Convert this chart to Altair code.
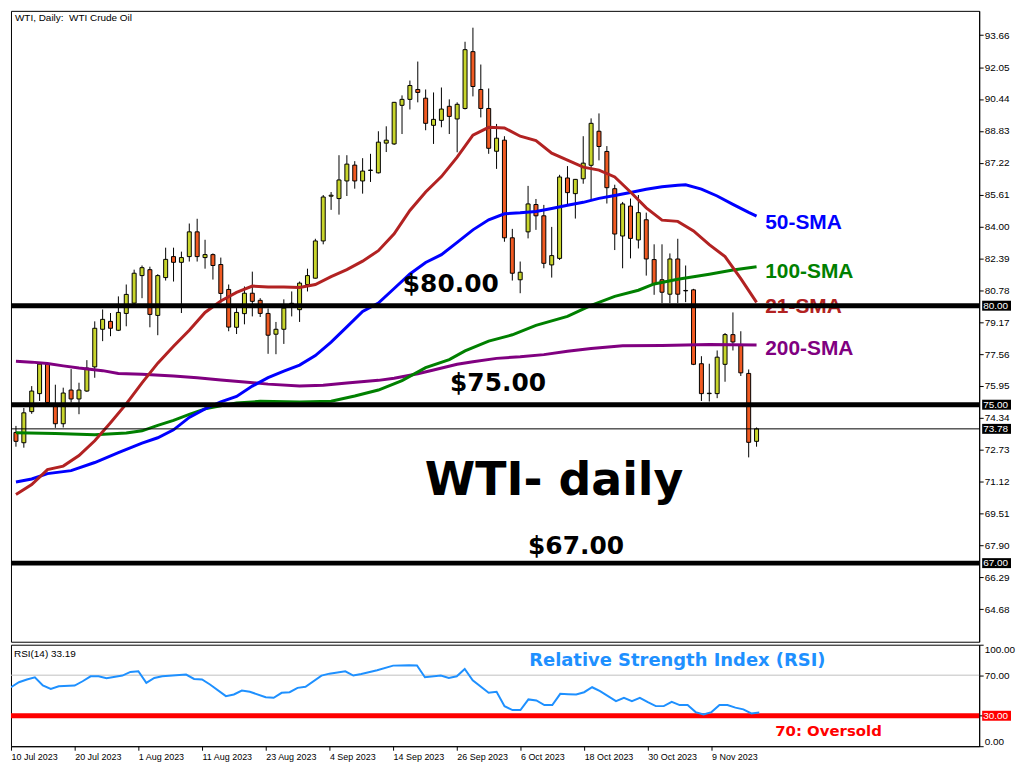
import altair as alt
import pandas as pd
import json

# ---------------- data ----------------
tick_idx = [0, 8, 16, 24, 32, 40, 48, 56, 64, 72, 80, 88]
tick_labels = ["10 Jul 2023", "20 Jul 2023", "1 Aug 2023", "11 Aug 2023",
               "23 Aug 2023", "4 Sep 2023", "14 Sep 2023", "26 Sep 2023",
               "6 Oct 2023", "18 Oct 2023", "30 Oct 2023", "9 Nov 2023"]

price_ticks = [64.68, 66.29, 67.90, 69.51, 71.12, 72.73, 74.34, 75.95, 77.56,
               79.17, 80.78, 82.39, 84.00, 85.61, 87.22, 88.83, 90.44, 92.05, 93.66]
rsi_ticks = [0, 30, 70, 100]

opens = [73.60, 73.08, 74.65, 75.56, 77.05, 75.04, 74.04, 75.74, 75.29, 75.69,
         76.91, 78.81, 79.21, 78.76, 79.61, 80.13, 81.52, 81.82, 79.51, 81.42,
         82.48, 82.19, 82.48, 83.73, 82.43, 82.58, 82.08, 80.82, 78.91, 79.60,
         80.63, 80.27, 79.61, 78.56, 78.81, 80.12, 79.80, 81.07, 81.39, 83.27,
         85.53, 85.41, 86.30, 87.10, 86.30, 86.83, 86.71, 88.21, 88.17, 90.12,
         90.42, 90.92, 90.48, 89.11, 89.36, 90.07, 89.43, 89.96, 92.83, 90.92,
         89.96, 87.80, 88.36, 83.43, 81.31, 83.73, 85.11, 84.54, 82.06, 82.39,
         86.45, 85.66, 86.41, 87.09, 88.81, 87.79, 85.91, 83.52, 85.03, 83.32,
         84.34, 82.33, 81.31, 80.58, 82.36, 80.77, 80.80, 77.07, 75.56, 75.56,
         77.04, 78.54, 78.01, 76.58, 73.15]
highs = [73.93, 74.84, 75.94, 77.12, 77.12, 76.01, 75.86, 76.80, 76.11, 77.25,
         79.21, 79.81, 79.63, 80.47, 81.07, 81.82, 82.03, 81.97, 81.59, 82.93,
         82.93, 82.73, 84.15, 84.39, 83.33, 82.64, 82.43, 81.07, 79.88, 80.97,
         81.72, 80.38, 79.86, 79.18, 80.32, 80.72, 81.22, 81.87, 83.38, 85.59,
         85.74, 87.60, 87.60, 87.30, 87.45, 87.67, 88.81, 89.06, 90.29, 90.62,
         91.37, 92.33, 90.92, 90.77, 91.02, 90.42, 90.27, 93.33, 94.04, 92.18,
         90.97, 89.18, 88.56, 83.88, 82.23, 86.05, 85.39, 85.09, 83.98, 86.61,
         87.05, 86.40, 88.56, 89.46, 89.71, 88.06, 86.11, 85.24, 85.41, 85.59,
         84.70, 83.10, 83.10, 82.64, 83.38, 82.03, 80.85, 77.45, 77.07, 77.74,
         78.62, 79.66, 78.71, 76.78, 73.85]
lows = [72.88, 72.83, 74.54, 75.19, 75.04, 73.83, 73.85, 75.11, 74.52, 75.65,
        76.36, 78.21, 78.46, 78.72, 78.96, 79.96, 80.38, 78.91, 78.51, 81.27,
        81.22, 79.63, 82.23, 82.23, 81.87, 81.32, 80.13, 78.71, 78.57, 79.06,
        79.46, 79.43, 77.57, 77.55, 78.07, 79.46, 79.18, 80.72, 81.37, 83.10,
        84.84, 84.60, 85.54, 85.91, 85.66, 86.25, 86.68, 87.76, 88.12, 88.67,
        89.91, 90.27, 88.86, 88.17, 89.01, 88.67, 87.75, 89.91, 90.57, 89.51,
        87.67, 86.91, 83.23, 81.27, 80.63, 83.40, 83.83, 81.89, 81.42, 82.31,
        85.09, 84.40, 86.16, 85.34, 87.34, 85.16, 82.81, 81.89, 82.39, 82.89,
        81.52, 80.55, 80.13, 80.13, 80.13, 80.18, 77.00, 75.19, 75.16, 75.33,
        76.16, 77.74, 76.45, 72.34, 72.88]
closes = [73.15, 74.59, 75.69, 77.05, 75.11, 74.04, 75.59, 75.29, 75.74, 76.85,
          78.86, 79.31, 78.86, 79.66, 80.57, 81.64, 81.92, 79.56, 81.52, 82.34,
          82.19, 82.43, 83.73, 82.48, 82.58, 82.03, 80.62, 78.92, 79.66, 80.63,
          80.22, 79.61, 78.51, 78.81, 79.88, 80.10, 81.14, 81.52, 83.27, 85.49,
          85.58, 86.35, 87.15, 86.30, 86.80, 86.85, 88.26, 88.36, 90.27, 90.42,
          91.12, 90.77, 89.21, 89.41, 89.93, 89.56, 90.17, 92.93, 91.07, 89.96,
          87.95, 88.46, 83.43, 81.64, 81.69, 85.14, 84.54, 82.14, 82.53, 86.50,
          85.71, 86.38, 87.20, 89.21, 88.04, 85.96, 83.62, 85.14, 83.40, 84.70,
          82.36, 81.09, 80.68, 82.36, 80.58, 80.75, 77.04, 75.56, 75.58, 77.40,
          78.54, 78.17, 76.61, 73.10, 73.78]

sma21_i = [0, 2, 4, 6, 8, 10, 12, 14, 16, 18, 20, 22, 24, 26, 28, 30, 32, 34, 36, 38,
           40, 42, 44, 46, 48, 50, 52, 54, 56, 58, 60, 62, 64, 66, 68, 70, 72, 74, 76, 78,
           80, 82, 84, 86, 88, 90, 92, 94]
sma21_v = [70.47, 70.97, 71.72, 71.90, 72.43, 73.18, 74.09, 75.04, 76.10, 77.10,
           77.95, 78.76, 79.66, 80.24, 80.67, 80.99, 80.94, 80.94, 80.92, 81.07,
           81.47, 81.82, 82.25, 82.78, 83.63, 84.81, 85.74, 86.52, 87.50, 88.61,
           89.01, 88.98, 88.56, 88.34, 87.70, 87.35, 87.00, 86.85, 86.50, 85.74,
           84.94, 84.32, 84.26, 83.78, 83.08, 82.48, 81.37, 80.17]

sma50_i = [0, 2, 4, 7, 10, 13, 16, 18, 20, 22, 24, 26, 28, 30, 32, 34, 36, 38, 40, 42,
           44, 46, 48, 50, 52, 54, 56, 58, 60, 62, 64, 66, 68, 70, 72, 74, 76, 78, 80, 82,
           84, 85, 87, 89, 91, 93, 94]
sma50_v = [71.10, 71.25, 71.52, 71.67, 72.08, 72.58, 73.06, 73.33, 73.73, 74.36,
           74.79, 75.14, 75.42, 75.94, 76.37, 76.70, 77.00, 77.48, 78.16, 78.93,
           79.71, 80.13, 80.87, 81.60, 82.18, 82.58, 83.20, 83.83, 84.34, 84.64,
           84.69, 84.76, 84.91, 85.07, 85.22, 85.42, 85.57, 85.72, 85.88, 86.01,
           86.08, 86.11, 85.89, 85.54, 85.12, 84.71, 84.52]

sma100_i = [0, 5, 10, 14, 16, 18, 20, 22, 24, 26, 28, 31, 36, 40, 43, 46, 49, 52, 55, 57,
            60, 63, 66, 70, 73, 76, 79, 81, 84, 88, 91, 94]
sma100_v = [73.58, 73.55, 73.48, 73.57, 73.68, 73.96, 74.21, 74.51, 74.79, 74.94,
            75.09, 75.17, 75.14, 75.18, 75.44, 75.74, 76.22, 76.87, 77.28, 77.72,
            78.21, 78.53, 79.01, 79.46, 80.02, 80.47, 80.78, 81.10, 81.34, 81.59,
            81.80, 81.97]

sma200_i = [0, 2, 4, 6, 8, 11, 13, 16, 20, 23, 26, 29, 32, 36, 39, 42, 46, 48, 51, 53,
            56, 58, 61, 64, 67, 70, 73, 77, 82, 88, 94]
sma200_v = [77.20, 77.15, 77.08, 76.96, 76.85, 76.72, 76.58, 76.54, 76.45, 76.36,
            76.25, 76.15, 76.04, 75.94, 75.98, 76.10, 76.23, 76.34, 76.56, 76.75,
            77.04, 77.17, 77.34, 77.42, 77.53, 77.70, 77.84, 77.98, 77.99, 78.04,
            78.01]

rsi_i = [0, 1, 2, 3, 4, 5, 6, 8, 9, 10, 11, 12, 14, 15, 16, 17, 18, 19, 22, 23,
         24, 25, 27, 28, 29, 30, 32, 33, 34, 35, 36, 37, 39, 40, 42, 43, 44, 46, 48, 50,
         51, 52, 54, 55, 56, 57, 58, 60, 61, 62, 63, 64, 65, 66, 67, 68, 69, 70, 71, 72,
         73, 74, 76, 77, 78, 79, 80, 81, 82, 83, 84, 85, 86, 87, 88, 89, 90, 91, 92, 93, 94]
rsi_v = [58.1, 63.0, 65.7, 67.9, 59.8, 56.5, 59.1, 59.8, 64.0, 68.9, 68.9, 66.9, 69.6,
         73.2, 73.8, 62.4, 67.3, 68.9, 70.6, 66.3, 65.7, 60.8, 49.3, 51.0, 54.9, 53.6,
         48.3, 47.7, 52.6, 53.2, 57.5, 58.5, 69.6, 71.5, 73.8, 69.6, 71.2, 74.8, 79.4,
         79.7, 79.5, 67.9, 69.6, 67.3, 68.9, 76.1, 65.0, 52.6, 53.6, 39.5, 35.6, 35.6,
         46.1, 45.1, 40.5, 40.5, 51.6, 51.3, 51.0, 53.2, 58.1, 54.2, 44.4, 47.7, 44.4,
         47.7, 43.4, 39.5, 39.5, 43.8, 40.5, 40.5, 33.6, 31.4, 33.6, 40.5, 40.5, 38.0,
         36.3, 32.3, 33.2]

key_levels = [80.00, 75.00, 67.00]
last_close = [73.78]
rsi_levels = [70]
rsi_oversold = [30]

# ---------------- styling ----------------
W, H1, H2 = 973, 634, 102
BULL, BEAR = "#C8D52C", "#F05A22"
AXF = "Liberation Sans"

xs = alt.Scale(domain=[0, 121.625], nice=False, zero=False)
ps = alt.Scale(domain=[63.03, 94.89], nice=False, zero=False)
rs = alt.Scale(domain=[0, 100], nice=False, zero=False)

price_axis = alt.Axis(orient="right", values=price_ticks, format=".2f", title=None,
                      grid=False, tickSize=4, labelPadding=1, labelFont=AXF,
                      labelFontSize=10, labelColor="black", tickColor="black",
                      domainColor="black", labelFlush=False, labelOverlap=False,
                      labelSeparation=0, labelBound=False)
rsi_axis = alt.Axis(orient="right", values=rsi_ticks, format=".2f", title=None,
                    grid=False, tickSize=4, labelPadding=1, labelFont=AXF,
                    labelFontSize=10, labelColor="black", tickColor="black",
                    domainColor="black", labelFlush=True, labelOverlap=False)
label_expr = json.dumps(tick_labels) + "[indexof(" + json.dumps(tick_idx) + ", datum.value)]"
date_axis = alt.Axis(values=tick_idx, labelExpr=label_expr, labelAlign="left",
                     labelBaseline="top", tickSize=4, labelPadding=2, labelFont=AXF,
                     labelFontSize=9, labelColor="black", tickColor="black",
                     domainColor="black", grid=False, title=None, labelFlush=False,
                     labelOverlap=False, labelBound=False)

one = pd.DataFrame({"k": [0]})


def note(txt, xi, yv, yscale, yaxis, xaxis, color, font, size):
    return alt.Chart(one).mark_text(
        text=txt, align="left", baseline="alphabetic", font=font, fontWeight="bold",
        fontSize=size, color=color
    ).encode(x=alt.X(datum=xi, type="quantitative", scale=xs, axis=xaxis),
             y=alt.Y(datum=yv, type="quantitative", scale=yscale, axis=yaxis))


def py(field):
    return alt.Y(field, type="quantitative", scale=ps, axis=price_axis)


def ry(field):
    return alt.Y(field, type="quantitative", scale=rs, axis=rsi_axis)


def px():
    return alt.X("i:Q", scale=xs, axis=None)


# ---------------- main price panel ----------------
cdf = pd.DataFrame({"i": list(range(len(opens))), "open": opens, "high": highs,
                    "low": lows, "close": closes})

wicks = alt.Chart(cdf).mark_rule(color="black", strokeWidth=1, clip=True).encode(
    x=px(), y=py("low"), y2="high:Q")

bodies = alt.Chart(cdf).transform_calculate(
    dir="datum.close >= datum.open ? 'up' : 'down'"
).mark_bar(size=4, stroke="black", strokeWidth=1, clip=True).encode(
    x=px(), y=py("open"), y2="close:Q",
    fill=alt.Fill("dir:N", scale=alt.Scale(domain=["up", "down"], range=[BULL, BEAR]),
                  legend=None))

sma_df = pd.concat([
    pd.DataFrame({"i": sma200_i, "v": sma200_v, "s": "200"}),
    pd.DataFrame({"i": sma100_i, "v": sma100_v, "s": "100"}),
    pd.DataFrame({"i": sma50_i, "v": sma50_v, "s": "50"}),
    pd.DataFrame({"i": sma21_i, "v": sma21_v, "s": "21"}),
])
sma_lines = alt.Chart(sma_df).mark_line(strokeWidth=3, clip=True).encode(
    x=px(), y=py("v"),
    color=alt.Color("s:N", scale=alt.Scale(domain=["21", "50", "100", "200"],
                                           range=["#B22222", "#0000FF", "#008000", "#800080"]),
                    legend=None))

SMAF = "Liberation Sans"
sma_notes = [
    note("50-SMA", 95.1, 83.88, ps, price_axis, None, "#0000FF", SMAF, 21),
    note("100-SMA", 95.1, 81.39, ps, price_axis, None, "#008000", SMAF, 21),
    note("21-SMA", 95.1, 79.61, ps, price_axis, None, "#B22222", SMAF, 21),
    note("200-SMA", 95.1, 77.50, ps, price_axis, None, "#800080", SMAF, 21),
]

level_rules = alt.Chart(pd.DataFrame({"level": key_levels})).mark_rule(
    color="black", strokeWidth=5).encode(y=py("level"))
last_rule = alt.Chart(pd.DataFrame({"level": last_close})).mark_rule(
    color="black", strokeWidth=1).encode(y=py("level"))

BIGF = "DejaVu Sans"
big_notes = [
    note("$80.00", 49.1, 80.69, ps, price_axis, None, "black", BIGF, 25),
    note("$75.00", 55.1, 75.67, ps, price_axis, None, "black", BIGF, 25),
    note("$67.00", 65.0, 67.48, ps, price_axis, None, "black", BIGF, 25),
    note("WTI- daily", 51.9, 70.42, ps, price_axis, None, "black", BIGF, 46),
]

main_title = alt.Chart(one).mark_text(
    text="WTI, Daily:\u00a0 WTI Crude Oil", align="left", baseline="middle",
    font=AXF, fontSize=10, color="black"
).encode(x=alt.value(4), y=alt.value(7))

box_df = pd.DataFrame({"level": key_levels + last_close})
boxes = alt.Chart(box_df).mark_rect(color="black", yOffset=-5, y2Offset=5).encode(
    x=alt.value(W + 3), x2=alt.value(W + 32), y=py("level"), y2="level:Q")
box_text = alt.Chart(box_df).mark_text(
    color="white", align="left", baseline="middle", font=AXF, fontSize=10
).encode(x=alt.value(W + 4), y=py("level"),
         text=alt.Text("level:Q", format=".2f"))

main = alt.layer(
    wicks, bodies, sma_lines, *sma_notes, level_rules, last_rule, *big_notes,
    main_title, boxes, box_text
).properties(width=W, height=H1)

# ---------------- RSI panel ----------------
rsi_df = pd.DataFrame({"i": rsi_i, "v": rsi_v})
r70 = alt.Chart(pd.DataFrame({"lv": rsi_levels})).mark_rule(
    color="#C0C0C0", strokeWidth=1).encode(y=ry("lv"))
r30 = alt.Chart(pd.DataFrame({"lv": rsi_oversold})).mark_rule(
    color="#FF0000", strokeWidth=5).encode(y=ry("lv"))
rsi_line = alt.Chart(rsi_df).mark_line(color="#1E90FF", strokeWidth=2, clip=True).encode(
    x=alt.X("i:Q", scale=xs, axis=date_axis), y=ry("v"))
rsi_notes = [
    note("Relative Strength Index (RSI)", 65.1, 79.4, rs, rsi_axis, date_axis,
         "#1E90FF", BIGF, 18),
    note("70: Oversold", 96.0, 10.1, rs, rsi_axis, date_axis, "#FF0000", BIGF, 15),
]
rsi_title = alt.Chart(one).mark_text(
    text="RSI(14) 33.19", align="left", baseline="middle", font=AXF, fontSize=10,
    color="black").encode(x=alt.value(3), y=alt.value(9))
rbox = alt.Chart(pd.DataFrame({"lv": rsi_oversold})).mark_rect(
    color="#FF0000", yOffset=-5, y2Offset=5).encode(
    x=alt.value(W + 3), x2=alt.value(W + 32), y=ry("lv"), y2="lv:Q")
rbox_text = alt.Chart(pd.DataFrame({"lv": rsi_oversold})).mark_text(
    color="white", align="left", baseline="middle", font=AXF, fontSize=10
).encode(x=alt.value(W + 4), y=ry("lv"),
         text=alt.Text("lv:Q", format=".2f"))

rsi = alt.layer(r70, r30, rsi_line, *rsi_notes, rsi_title, rbox, rbox_text).properties(
    width=W, height=H2)

chart = alt.vconcat(main, rsi, spacing=3, bounds="flush").properties(
    padding=0, background="white"
).configure_view(stroke="black", strokeWidth=1).configure_axis(
    labelOverlap=False, labelFlush=False
)

chart.save("out.html", embed_options={"renderer": "svg", "actions": False})
